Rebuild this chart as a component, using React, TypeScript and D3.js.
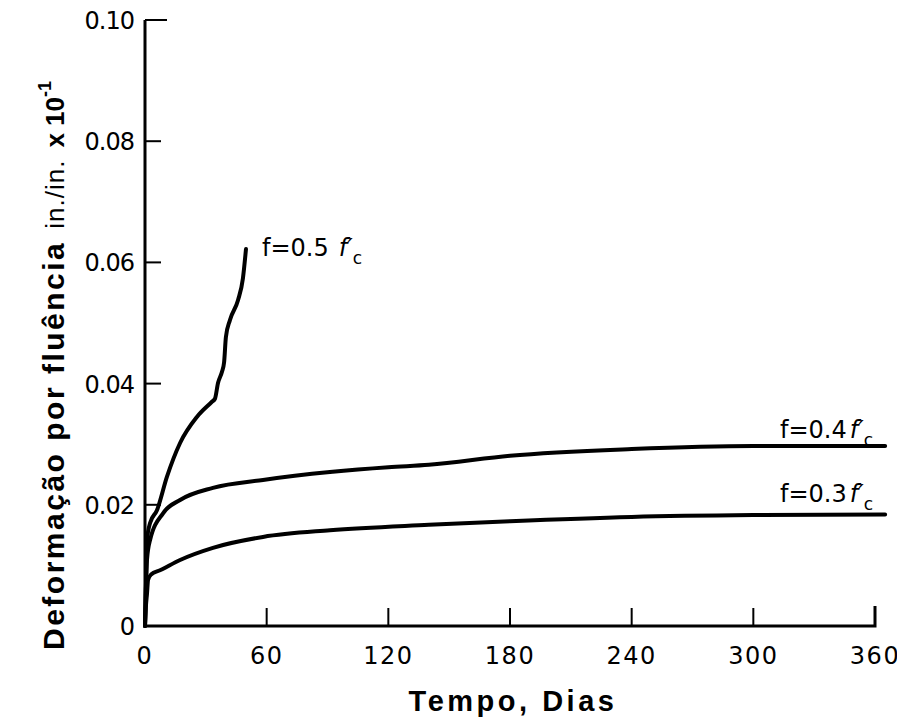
import React, { useEffect, useRef } from "react";
import * as d3 from "d3";

// values (days, strain in./in. x10^-1)
const xTicks = [0, 60, 120, 180, 240, 300, 360];
const yTicks = [0, 0.02, 0.04, 0.06, 0.08, 0.1];
const yTickLabels = ["0", "0.02", "0.04", "0.06", "0.08", "0.10"];

const days05 = [0, 0.3, 0.6, 1, 2.5, 5.9, 10.8, 17.3, 25.6, 33, 34.5, 36, 38, 39, 39.9, 41.9, 45.9, 48.3, 49.8];
const strain05 = [0, 0.004, 0.008, 0.0142, 0.017, 0.0191, 0.0246, 0.0302, 0.0345, 0.037, 0.0375, 0.0401, 0.042, 0.0435, 0.0477, 0.0505, 0.0538, 0.0574, 0.0622];

const days04 = [0, 0.4, 1, 2.5, 8.9, 17.3, 33.5, 58.2, 91.2, 120, 140, 180, 240, 300, 365];
const strain04 = [0, 0.006, 0.011, 0.0142, 0.0186, 0.0208, 0.0228, 0.0241, 0.0254, 0.0262, 0.0266, 0.0281, 0.0292, 0.0297, 0.0297];

const days03 = [0, 0.4, 1, 1.5, 3, 7.4, 17.3, 33.5, 58.2, 91.2, 140, 180, 240, 300, 365];
const strain03 = [0, 0.003, 0.0054, 0.0076, 0.0085, 0.0092, 0.0109, 0.0129, 0.0147, 0.0158, 0.0167, 0.0173, 0.018, 0.0183, 0.0184];

const curveLabels = ["f=0.5", "f=0.4", "f=0.3"];

const App = () => {
  const svgRef = useRef<SVGSVGElement>(null);

  useEffect(() => {
    const svg = d3.select(svgRef.current);
    svg.selectAll("*").remove();

    const x = d3.scaleLinear().domain([0, 360]).range([145, 875]);
    const y = d3.scaleLinear().domain([0, 0.1]).range([626, 20]);
    const tickFont = "'DejaVu Sans', sans-serif";
    const titleFont = "'Liberation Sans', Arial, sans-serif";

    // axes
    svg
      .append("path")
      .attr("d", `M${x(0)},${y(0.1)}V${y(0)}H${x(360)}V${y(0) - 20}`)
      .attr("fill", "none")
      .attr("stroke", "#000")
      .attr("stroke-width", 3);

    svg
      .selectAll(".yt")
      .data(yTicks)
      .enter()
      .append("line")
      .attr("x1", x(0))
      .attr("x2", (d) => x(0) + (d === 0.1 ? 22 : 16))
      .attr("y1", (d) => y(d))
      .attr("y2", (d) => y(d))
      .attr("stroke", "#000")
      .attr("stroke-width", 2);

    svg
      .selectAll(".xt")
      .data(xTicks.slice(1, -1))
      .enter()
      .append("line")
      .attr("x1", (d) => x(d))
      .attr("x2", (d) => x(d))
      .attr("y1", y(0))
      .attr("y2", y(0) - 18)
      .attr("stroke", "#000")
      .attr("stroke-width", 2);

    svg
      .selectAll(".yl")
      .data(yTicks)
      .enter()
      .append("text")
      .attr("x", 134)
      .attr("y", (d) => y(d) + 9)
      .attr("text-anchor", "end")
      .attr("font-family", tickFont)
      .attr("font-size", 24)
      .attr("letter-spacing", -1)
      .text((d, i) => yTickLabels[i]);

    svg
      .selectAll(".xl")
      .data(xTicks)
      .enter()
      .append("text")
      .attr("x", (d) => x(d))
      .attr("y", 664)
      .attr("text-anchor", "middle")
      .attr("font-family", tickFont)
      .attr("font-size", 24)
      .attr("letter-spacing", 1.5)
      .text((d) => d);

    // axis titles
    svg
      .append("text")
      .attr("x", 513)
      .attr("y", 711)
      .attr("text-anchor", "middle")
      .attr("font-family", titleFont)
      .attr("font-weight", "bold")
      .attr("font-size", 29)
      .attr("letter-spacing", 3.5)
      .text("Tempo, Dias");

    const yt = svg
      .append("text")
      .attr("transform", "translate(64,650) rotate(-90)")
      .attr("font-family", titleFont)
      .attr("font-weight", "bold")
      .attr("font-size", 30);
    yt.append("tspan").attr("letter-spacing", 2.5).text("Deformação por fluência");
    yt.append("tspan")
      .attr("dx", 12)
      .attr("font-size", 26)
      .attr("font-weight", "normal")
      .attr("letter-spacing", 1)
      .text("in./in.");
    yt.append("tspan").attr("dx", 12).attr("font-size", 26).text("x 10");
    yt.append("tspan").attr("dy", -13).attr("font-size", 18).text("-1");

    // curves
    const line = d3
      .line<[number, number]>()
      .x((d) => x(d[0]))
      .y((d) => y(d[1]))
      .curve(d3.curveMonotoneX);

    const series = [
      [days05, strain05],
      [days04, strain04],
      [days03, strain03],
    ];
    series.forEach(([xs, ys]) => {
      svg
        .append("path")
        .datum(xs.map((d, i) => [d, ys[i]] as [number, number]))
        .attr("fill", "none")
        .attr("stroke", "#000")
        .attr("stroke-width", 4)
        .attr("stroke-linecap", "round")
        .attr("d", line);
    });

    // curve labels
    const labelPos = [
      { px: 262, py: 256, gap: 10 },
      { px: 780, py: 438, gap: 3 },
      { px: 780, py: 502, gap: 3 },
    ];
    labelPos.forEach((l, i) => {
      const t = svg
        .append("text")
        .attr("x", l.px)
        .attr("y", l.py)
        .attr("font-family", tickFont)
        .attr("font-size", 24);
      t.append("tspan").text(curveLabels[i]);
      t.append("tspan").attr("dx", l.gap).attr("font-style", "italic").text("f′");
      t.append("tspan").attr("dy", 8).attr("font-size", 17).text("c");
    });
  }, []);

  return <svg ref={svgRef} width={905} height={726} style={{ display: "block", margin: -8 }} />;
};

export default App;
